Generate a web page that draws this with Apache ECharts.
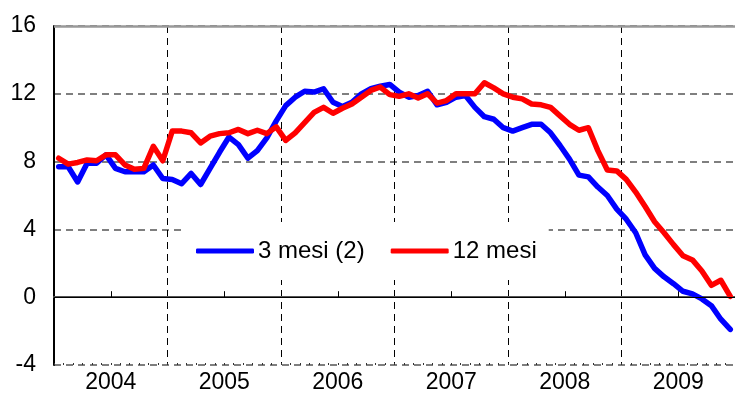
<!DOCTYPE html>
<html>
<head>
<meta charset="utf-8">
<script src="https://cdn.jsdelivr.net/npm/echarts@6/dist/echarts.min.js"></script>
<style>html,body{margin:0;padding:0;background:#fff}#c{width:735px;height:394px}</style>
</head>
<body>
<div id="c"></div>
<script>
var years = ['2004','2005','2006','2007','2008','2009'];
var months = [];
years.forEach(function(y){ for (var m = 1; m <= 12; m++) months.push(y + '-' + (m < 10 ? '0' + m : m)); });

var yTicks = [-4, 0, 4, 8, 12, 16];

var mesi3 = [
  7.7, 7.7, 6.8, 7.9, 7.9, 8.4, 7.6, 7.4, 7.4, 7.4, 7.8, 7.0,
  6.95, 6.7, 7.3, 6.65, 7.6, 8.55, 9.45, 9.0, 8.2, 8.65, 9.4, 10.4,
  11.3, 11.8, 12.15, 12.1, 12.3, 11.5, 11.25, 11.5, 12.0, 12.3, 12.45, 12.55,
  12.1, 11.8, 11.9, 12.15, 11.35, 11.5, 11.8, 11.9, 11.2, 10.65, 10.5, 10.0,
  9.8, 10.0, 10.2, 10.2, 9.7, 8.95, 8.15, 7.2, 7.1, 6.5, 6.0, 5.2,
  4.6, 3.8, 2.5, 1.7, 1.2, 0.8, 0.35, 0.2, -0.1, -0.5, -1.3, -1.9
];
var mesi12 = [
  8.2, 7.85, 7.95, 8.1, 8.05, 8.4, 8.4, 7.8, 7.55, 7.6, 8.9, 8.05,
  9.8, 9.8, 9.7, 9.1, 9.5, 9.65, 9.7, 9.9, 9.65, 9.85, 9.65, 10.05,
  9.25, 9.7, 10.3, 10.9, 11.2, 10.85, 11.15, 11.4, 11.8, 12.2, 12.4, 11.95,
  11.85, 12.0, 11.75, 12.0, 11.45, 11.6, 12.0, 12.0, 12.0, 12.65, 12.35, 12.0,
  11.8, 11.7, 11.4, 11.35, 11.2, 10.7, 10.2, 9.85, 10.0, 8.65, 7.5, 7.45,
  6.95, 6.2, 5.35, 4.45, 3.8, 3.1, 2.45, 2.2, 1.55, 0.7, 1.0, 0.05
];

var FONT = 'Liberation Sans, Arial, sans-serif';
var chart = echarts.init(document.getElementById('c'), null, {renderer: 'canvas'});
chart.setOption({
  animation: false,
  backgroundColor: '#fff',
  grid: {left: 54, top: 26, right: -2, bottom: 29, containLabel: false},
  legend: {
    data: ['3 mesi (2)', '12 mesi'],
    left: 183, top: 222,
    padding: [17, 12, 17, 13],
    backgroundColor: '#fff',
    icon: 'roundRect',
    itemWidth: 58, itemHeight: 5,
    itemGap: 26,
    textStyle: {fontFamily: FONT, fontSize: 24, color: '#000', padding: [0, 0, 0, -1]},
    z: 10
  },
  xAxis: [
    {
      type: 'category', data: years, boundaryGap: true, position: 'bottom',
      axisLine: {show: true, lineStyle: {color: '#555', width: 2}},
      axisTick: {show: true, alignWithLabel: true, inside: true, length: 6, lineStyle: {color: '#000', width: 1}},
      axisLabel: {show: true, fontFamily: FONT, fontSize: 23, color: '#000', margin: 6},
      splitLine: {show: true, lineStyle: {color: '#000', width: 1, type: [7, 5]}}
    },
    {
      type: 'category', data: months, boundaryGap: true, position: 'bottom',
      axisLine: {show: false},
      axisTick: {show: true, inside: true, length: 2, interval: 0, lineStyle: {color: '#333', width: 1}},
      axisLabel: {show: false},
      splitLine: {show: false}
    }
  ],
  yAxis: {
    type: 'value', min: -4, max: 16, interval: 4,
    axisLine: {show: true, lineStyle: {color: '#000', width: 2}},
    axisTick: {show: false},
    axisLabel: {fontFamily: FONT, fontSize: 23, color: '#000', margin: 18},
    splitLine: {show: true, lineStyle: {color: '#555', width: 1.5, type: [7, 5]}}
  },
  series: [
    {
      name: '3 mesi (2)', type: 'line', xAxisIndex: 1, data: mesi3,
      showSymbol: false, symbol: 'none',
      lineStyle: {color: '#0000ff', width: 5.5, cap: 'round', join: 'round'},
      itemStyle: {color: '#0000ff'},
      z: 3,
      markLine: {
        silent: true, symbol: 'none', label: {show: false},
        data: [
          {yAxis: 0, lineStyle: {color: '#000', width: 1.2, type: 'solid'}},
          {yAxis: 16, lineStyle: {color: '#999', width: 2.5, type: 'solid'}}
        ]
      }
    },
    {
      name: '12 mesi', type: 'line', xAxisIndex: 1, data: mesi12,
      showSymbol: false, symbol: 'none',
      lineStyle: {color: '#ff0000', width: 5.5, cap: 'round', join: 'round'},
      itemStyle: {color: '#ff0000'},
      z: 4
    }
  ]
});
</script>
</body>
</html>
